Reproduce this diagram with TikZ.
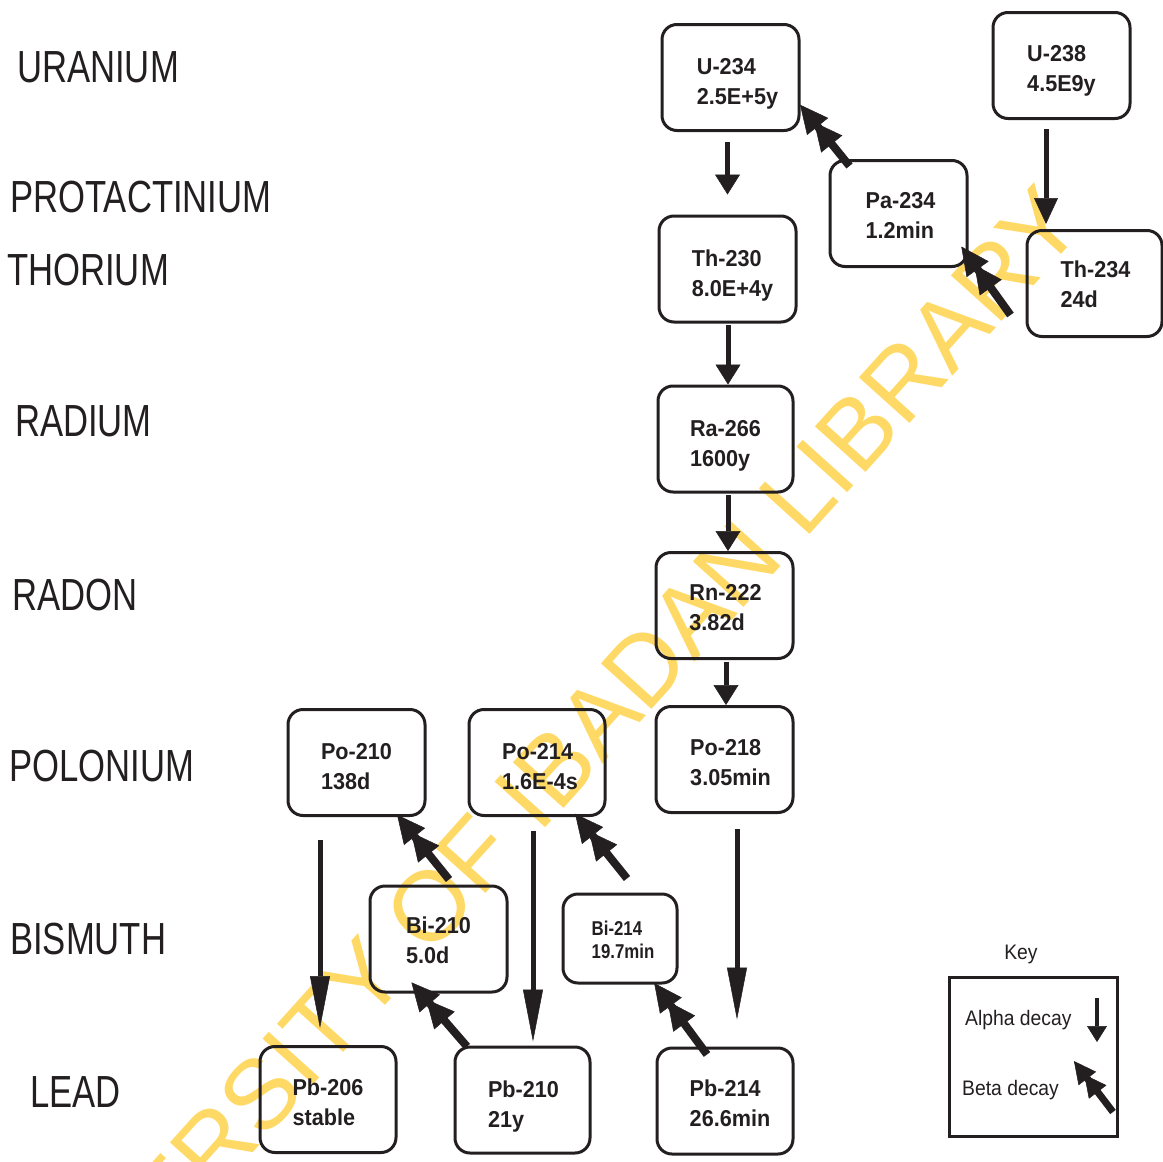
\documentclass[tikz,border=0pt]{standalone}
\usepackage{fontspec}
\setmainfont{Liberation Sans}
\newfontfamily\chainfont[FakeStretch=0.94]{Liberation Sans}
\newfontfamily\smallchainfont[FakeStretch=0.84]{Liberation Sans}
\newfontfamily\rowfont[FakeStretch=0.77]{Liberation Sans}
\newfontfamily\keyfont[FakeStretch=0.92]{Liberation Sans}
\usetikzlibrary{arrows.meta,calc}
\definecolor{inkc}{RGB}{35,31,32}
\definecolor{stamp}{RGB}{255,217,102}
% two-line nuclide label: #1 nudges the text right, #2 nudges it down
\newcommand\nuc[4]{\rule{0pt}{\dimexpr16.8pt+#2pt*2\relax}\hspace*{\dimexpr#1pt*2\relax}#3\\\hspace*{\dimexpr#1pt*2\relax}#4}
\begin{document}
\begin{tikzpicture}[x=1pt,y=-1pt,
  nuclide/.style={draw=inkc, line width=3pt, rounded corners=15pt,
    minimum width=137pt, minimum height=106pt, inner sep=0pt, align=left,
    text=inkc, font=\chainfont\bfseries\fontsize{23}{30}\selectfont},
  element/.style={anchor=west, inner sep=0pt, text=inkc,
    font=\rowfont\fontsize{45}{50}\selectfont},
  keytext/.style={anchor=west, inner sep=0pt, text=inkc,
    font=\keyfont\fontsize{21}{24}\selectfont},
  alphashort/.style={draw=inkc, line width=5pt,
    -{Triangle[length=20pt,width=25pt,line width=0.5pt]}},
  alphalong/.style={draw=inkc, line width=5pt,
    -{Triangle[length=52pt,width=20pt,line width=0.5pt]}},
  beta/.style={draw=inkc, line width=8pt,
    -{Triangle[length=28pt,width=27pt,line width=0.5pt,sep=-5.5pt]Triangle[length=28pt,width=27pt,line width=0.5pt,sep=-5.5pt]}},
]
\useasboundingbox (0,0) rectangle (1163,1162);

% library stamp behind the chart
\begin{scope}
  \clip (0,0) rectangle (1163,1162);
  \node[rotate=48, text=stamp, inner sep=0pt,
    font=\fontsize{99}{99}\selectfont] (stampmark) at (525,800)
    {UNIVERSITY OF IBADAN LIBRARY};
\end{scope}

% element rows
\node[element] (uranium) at (17,67) {URANIUM};
\node[element] (protact) at (10,197) {PROTACTINIUM};
\node[element] (thorium) at (7,270) {THORIUM};
\node[element] (radium) at (15,421) {RADIUM};
\node[element] (radon) at (12,595) {RADON};
\node[element] (polonium) at (9,766) {POLONIUM};
\node[element] (bismuth) at (10,939) {BISMUTH};
\node[element] (lead) at (30,1092) {LEAD};

% nuclides
\node[nuclide] (U234) at (730.5,77.5) {\nuc{7}{5.5}{U-234}{2.5E+5y}};
\node[nuclide] (U238) at (1061.5,65.5) {\nuc{0}{4.5}{U-238}{4.5E9y}};
\node[nuclide] (Pa234) at (898.5,213.5) {\nuc{2}{2}{Pa-234}{1.2min}};
\node[nuclide, minimum width=135pt] (Th234) at (1094.5,283.5) {\nuc{1}{1}{Th-234}{24d}};
\node[nuclide] (Th230) at (727.5,269) {\nuc{5}{6.5}{Th-230}{8.0E+4y}};
\node[nuclide, minimum width=135pt] (Ra266) at (725.5,439) {\nuc{0}{6.5}{Ra-266}{1600y}};
\node[nuclide] (Rn222) at (724.5,605.5) {\nuc{1}{2}{Rn-222}{3.82d}};
\node[nuclide] (Po218) at (724.5,759.5) {\nuc{6}{3}{Po-218}{3.05min}};
\node[nuclide, minimum width=136pt] (Po214) at (537,762.5) {\nuc{3}{3.5}{Po-214}{1.6E-4s}};
\node[nuclide] (Po210) at (356.5,762.5) {\nuc{0}{4}{Po-210}{138d}};
\node[nuclide] (Bi210) at (438.5,939) {\nuc{0}{1.5}{Bi-210}{5.0d}};
\node[nuclide, minimum width=114pt, minimum height=89pt,
  font=\smallchainfont\bfseries\fontsize{20}{23}\selectfont] (Bi214) at (620,938.5) {\nuc{3}{0}{Bi-214}{19.7min}};
\node[nuclide, minimum width=136pt] (Pb206) at (328,1099.5) {\nuc{0}{3}{Pb-206}{stable}};
\node[nuclide, minimum width=135pt] (Pb210) at (522.5,1100) {\nuc{1}{6.5}{Pb-210}{21y}};
\node[nuclide, minimum width=136pt] (Pb214) at (725,1101) {\nuc{5}{2.5}{Pb-214}{26.6min}};

% alpha decays
\draw[alphashort] ([shift={(-3,10)}]U234.south) -- ([shift={(0,-20)}]Th230.north);
\draw[draw=inkc, line width=5pt, -{Triangle[length=26pt,width=24pt,line width=0.5pt]}]
  ([shift={(-15.5,9)}]U238.south) -- ([shift={(-48.5,-5)}]Th234.north);
\draw[alphashort] ([shift={(0.5,1.5)}]Th230.south) -- ([shift={(2.5,0)}]Ra266.north);
\draw[alphashort] ([shift={(2.5,1.5)}]Ra266.south) -- ([shift={(3.5,0)}]Rn222.north);
\draw[alphashort] ([shift={(1.5,1.5)}]Rn222.south) -- ([shift={(1.5,0)}]Po218.north);
\draw[alphalong] ([shift={(12.5,15)}]Po218.south) -- ([shift={(12,-27)}]Pb214.north);
\draw[alphalong] ([shift={(-4,14)}]Po214.south) -- ([shift={(10.5,-4)}]Pb210.north);
\draw[alphalong] ([shift={(-36.5,23)}]Po210.south) -- ([shift={(-8,-17)}]Pb206.north);

% beta decays
\draw[beta] ([shift={(21,7)}]Pa234.north west) -- ([shift={(3,-23)}]U234.south east);
\draw[beta] ([shift={(-15,-23)}]Th234.south west) -- ([shift={(-4,-17)}]Pa234.south east);
\draw[beta] ([shift={(10.5,-5)}]Bi210.north) -- ([shift={(-26,2)}]Po210.south east);
\draw[beta] ([shift={(7,-14)}]Bi214.north) -- ([shift={(-28,1)}]Po214.south east);
\draw[beta] ([shift={(-55.5,1)}]Pb210.north) -- ([shift={(-23.5,-7)}]Bi210.south);
\draw[beta] ([shift={(-18,8)}]Pb214.north) -- ([shift={(-21,3)}]Bi214.south east);

% key
\node[draw=inkc, line width=3pt, minimum width=168pt, minimum height=159pt,
  inner sep=0pt] (keybox) at (1033,1056.5) {};
\node[inner sep=0pt, text=inkc, font=\keyfont\fontsize{21}{24}\selectfont]
  (keytitle) at (1021,954) {Key};
\node[keytext] (alphatext) at (965,1020) {Alpha decay};
\node[keytext] (betatext) at (962,1090) {Beta decay};
\coordinate (ka1) at (1097,998);
\coordinate (ka2) at (1097,1042);
\coordinate (kb1) at (1113,1112);
\coordinate (kb2) at (1077,1065);
\draw[draw=inkc, line width=4pt, -{Triangle[length=16pt,width=20pt,line width=0.5pt]}] (ka1) -- (ka2);
\draw[draw=inkc, line width=7pt,
  -{Triangle[length=22pt,width=22pt,line width=0.5pt,sep=-5pt]Triangle[length=22pt,width=22pt,line width=0.5pt,sep=-5pt]}] (kb1) -- (kb2);
\end{tikzpicture}
\end{document}
